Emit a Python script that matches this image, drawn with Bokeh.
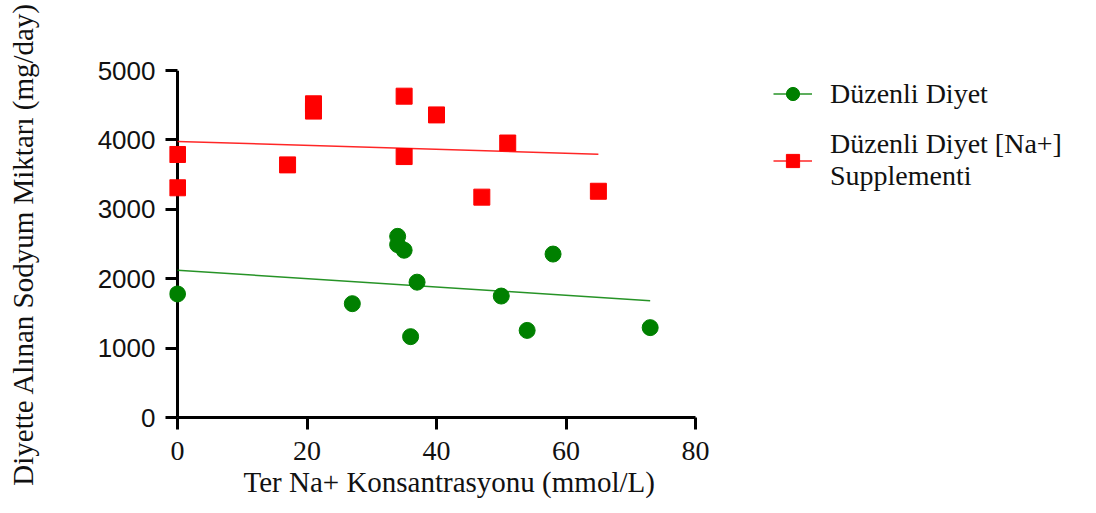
import numpy as np
from bokeh.plotting import figure
from bokeh.models import Range1d, FixedTicker, Legend, LegendItem, Span, Title
from bokeh.embed import file_html
from bokeh.resources import INLINE

# ---- data ----
green_x = [0, 27, 34, 34, 35, 36, 37, 50, 54, 58, 73]
green_y = [1780, 1640, 2610, 2490, 2410, 1165, 1950, 1750, 1255, 2355, 1295]
red_x = [0, 0, 17, 21, 21, 35, 35, 40, 47, 51, 65]
red_y = [3790, 3310, 3640, 4520, 4415, 4630, 3760, 4360, 3175, 3955, 3260]
x_ticks = [0, 20, 40, 60, 80]
y_ticks = [0, 1000, 2000, 3000, 4000, 5000]
series_names = ["Düzenli Diyet", "Düzenli Diyet [Na+]\nSupplementi"]
x_title = "Ter Na+ Konsantrasyonu (mmol/L)"
y_title = "Diyette Alınan Sodyum Miktarı (mg/day)"

FONT = "Liberation Serif"
SANS = "Liberation Sans"
GREEN = "#008000"
RED = "#ff0000"
TXT = "#111111"

# layout (pixels)
FRAME_L, FRAME_T, FRAME_B = 169, 70, 417
AXIS_R = 695          # pixel where x = 80 sits
FRAME_R = 1090        # frame extends right so the legend fits inside it
X0_PX = 177           # pixel where x = 0 sits
X_MAX = 80
px_per_unit = (AXIS_R - X0_PX) / X_MAX
x_start = -(X0_PX - FRAME_L) / px_per_unit
x_end = X_MAX + (FRAME_R - AXIS_R) / px_per_unit


def fit_line(xs, ys):
    k, b = np.polyfit(xs, ys, 1)
    lx = np.array([min(xs), max(xs)], dtype=float)
    return lx, k * lx + b


p = figure(width=1096, height=513, output_backend="svg", toolbar_location=None,
           x_range=Range1d(x_start, x_end), y_range=Range1d(0, 5000),
           min_border_left=FRAME_L, min_border_right=1096 - FRAME_R,
           min_border_top=FRAME_T, min_border_bottom=513 - FRAME_B)
p.outline_line_color = None
p.xgrid.visible = False
p.ygrid.visible = False

# y axis line at x = 0
p.add_layout(Span(location=0, dimension="height", line_color="black",
                  line_width=3, level="underlay"))

glx, gly = fit_line(green_x, green_y)
rlx, rly = fit_line(red_x, red_y)
gl = p.line(glx, gly, line_color=GREEN, line_width=1.5, line_alpha=0.85)
rl = p.line(rlx, rly, line_color=RED, line_width=1.5, line_alpha=0.85)
gs = p.scatter(green_x, green_y, marker="circle", size=16, fill_color=GREEN, line_color=GREEN)
rs = p.scatter(red_x, red_y, marker="square", size=16, fill_color=RED, line_color=RED)

for ax in (p.xaxis[0], p.yaxis[0]):
    ax.axis_line_width = 3
    ax.axis_line_color = "black"
    ax.major_tick_line_width = 3
    ax.major_tick_line_color = "black"
    ax.minor_tick_out = 0
    ax.minor_tick_in = 0
    ax.major_label_text_font = FONT
    ax.major_label_text_font_size = "28px"
    ax.major_label_text_color = TXT
    ax.axis_label_text_font = FONT
    ax.axis_label_text_font_size = "29px"
    ax.axis_label_text_font_style = "normal"
    ax.axis_label_text_color = TXT

xa = p.xaxis[0]
xa.ticker = FixedTicker(ticks=x_ticks)
xa.bounds = (0, X_MAX)
xa.major_tick_out = 12
xa.major_tick_in = 0
xa.major_label_standoff = 12

# x-axis title, aligned like the reference (slightly right of centre)
p.add_layout(Title(text=x_title, align="left", offset=243 - FRAME_L,
                   text_font=FONT, text_font_size="29px", text_font_style="normal",
                   text_color=TXT, standoff=2), "below")

ya = p.yaxis[0]
ya.ticker = FixedTicker(ticks=y_ticks)
ya.bounds = (0, 5000)
ya.axis_line_color = None
ya.major_tick_in = X0_PX - FRAME_L
ya.major_tick_out = 12 - (X0_PX - FRAME_L)
ya.major_label_text_font = SANS
ya.major_label_text_font_size = "26px"
ya.major_label_standoff = 10
ya.axis_label = y_title
ya.axis_label_standoff = 56

legend = Legend(items=[LegendItem(label=series_names[0], renderers=[gl, gs]),
                       LegendItem(label=series_names[1], renderers=[rl, rs])],
                location=(773 - FRAME_L, 225), padding=0, margin=0, spacing=18,
                glyph_width=39, glyph_height=33, label_standoff=18,
                border_line_color=None, background_fill_alpha=0,
                label_text_font=FONT, label_text_font_size="28px",
                label_text_line_height=1.1,
                label_text_color=TXT)
p.add_layout(legend)

open("out.html", "w").write(file_html(p, INLINE))
